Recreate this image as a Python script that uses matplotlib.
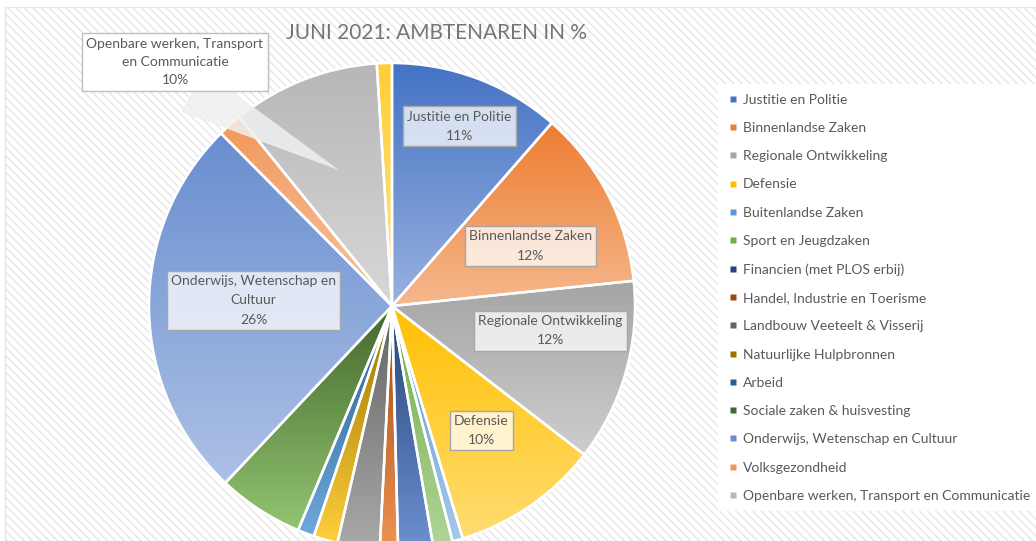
import colorsys
import numpy as np
import matplotlib
matplotlib.use('Agg')
import matplotlib.pyplot as plt
from matplotlib.colors import LinearSegmentedColormap, to_rgb
from matplotlib.lines import Line2D
from matplotlib.patches import Rectangle

plt.rcParams['font.family'] = ['Lato', 'DejaVu Sans']

# data (% of civil servants, June 2021)
ministries = ['Justitie en Politie', 'Binnenlandse Zaken', 'Regionale Ontwikkeling', 'Defensie',
              'Buitenlandse Zaken', 'Sport en Jeugdzaken', 'Financien (met PLOS erbij)',
              'Handel, Industrie en Toerisme', 'Landbouw Veeteelt & Visserij', 'Natuurlijke Hulpbronnen',
              'Arbeid', 'Sociale zaken & huisvesting', 'Onderwijs, Wetenschap en Cultuur',
              'Volksgezondheid', 'Openbare werken, Transport en Communicatie', '']
shares = [11.4, 11.9, 12.1, 9.8, 0.7, 1.3, 2.3, 1.2, 2.8, 1.6, 1.1, 5.7, 25.5, 1.6, 9.8, 1.0]
# which slices get a label in the pie: index -> label text (with line breaks)
pie_labels = {0: 'Justitie en Politie', 1: 'Binnenlandse Zaken', 2: 'Regionale Ontwikkeling',
              3: 'Defensie', 12: 'Onderwijs, Wetenschap en\nCultuur'}
callout_idx = 14
callout_text = 'Openbare werken, Transport\nen Communicatie'

# office palette
colors = ['#4472C4', '#ED7D31', '#A5A5A5', '#FFC000', '#5B9BD5', '#70AD47',
          '#264478', '#9E480E', '#636363', '#997300', '#255E91', '#43682B',
          '#698ED0', '#F1975A', '#B7B7B7', '#FFCD33']

W, H = 1036, 541
fig = plt.figure(figsize=(W / 100, H / 100), dpi=100)
fig.patch.set_facecolor('white')

# hatched chart area
bg = Rectangle((5 / W, 0), 1, 1 - 7 / H, transform=fig.transFigure, facecolor='white',
               edgecolor='#e6e6e6', hatch='\\\\\\\\', linewidth=1, zorder=-10)
fig.patches.append(bg)

def lighten(c, f):
    h, l, s = colorsys.rgb_to_hls(*to_rgb(c))
    return colorsys.hls_to_rgb(h, l + (1 - l) * f, s)

R = 243
cx, cy = 392, 306
pad = 1.02
ax = fig.add_axes([(cx - R * pad) / W, (H - cy - R * pad) / H, 2 * R * pad / W, 2 * R * pad / H])
wedges, _ = ax.pie(shares, colors=colors, startangle=90, counterclock=False, radius=1,
                   wedgeprops=dict(edgecolor='white', linewidth=1.8))

grad = np.linspace(0, 1, 256).reshape(-1, 1)
for w, c in zip(wedges, colors):
    ext = w.get_path().get_extents()
    cmap = LinearSegmentedColormap.from_list('g', [to_rgb(c), lighten(c, 0.45)])
    im = ax.imshow(grad, cmap=cmap, extent=(ext.x0, ext.x1, ext.y0, ext.y1), origin='upper',
                   aspect='auto', zorder=0.5, interpolation='bilinear')
    im.set_clip_path(w)
    w.set_facecolor('none')
    w.set_zorder(1)

ax.set_xlim(-pad, pad)
ax.set_ylim(-pad, pad)
ax.axis('off')

total = sum(shares)
# label placement: radius fraction and angle nudge (deg)
label_r = {0: 0.79, 1: 0.62, 2: 0.66, 3: 0.63, 12: 0.57}
label_nudge = {0: 0, 1: -4, 2: 7, 3: 1, 12: -3}
for i, txt in pie_labels.items():
    w = wedges[i]
    mid = np.deg2rad((w.theta1 + w.theta2) / 2 + label_nudge[i])
    r = label_r[i]
    pct = round(shares[i] / total * 100)
    ax.text(r * np.cos(mid), r * np.sin(mid), f'{txt}\n{pct}%', ha='center', va='center',
            fontsize=10, color='#595959', linespacing=1.75, zorder=5,
            bbox=dict(boxstyle='square,pad=0.3', facecolor=(1, 1, 1, 0.75), edgecolor='#a6a6a6', lw=1))

# callout label
w = wedges[callout_idx]
mid = np.deg2rad((w.theta1 + w.theta2) / 2)
pct = round(shares[callout_idx] / total * 100)
ax.annotate(f'{callout_text}\n{pct}%', xy=(0.6 * np.cos(mid), 0.6 * np.sin(mid)), xycoords='data',
            xytext=(175, H - 62), textcoords='figure pixels', ha='center', va='center',
            fontsize=10, color='#595959', linespacing=1.65, zorder=6, annotation_clip=False,
            bbox=dict(boxstyle='square,pad=0.3', facecolor='white', edgecolor='#bfbfbf', lw=1),
            arrowprops=dict(arrowstyle='wedge,tail_width=3.4,shrink_factor=0.5',
                            fc=(0.94, 0.94, 0.94, 0.85), ec='none', relpos=(0.55, 0),
                            shrinkA=0, shrinkB=0))

fig.text(436 / W, 1 - 33 / H, 'JUNI 2021: AMBTENAREN IN %', ha='center', va='center',
         fontsize=15, color='#757575')

handles = [Line2D([], [], marker='s', linestyle='none', markersize=5, markerfacecolor=c,
                  markeredgecolor='none') for c in colors[:15]]
leg = fig.legend(handles, ministries[:15], loc='upper left', bbox_to_anchor=(718 / W, 1 - 84 / H),
                 frameon=True, fancybox=False, facecolor='white', edgecolor='none', framealpha=1,
                 fontsize=10, labelcolor='#595959', handlelength=0.7, handletextpad=0.4,
                 labelspacing=1.17, borderpad=0.7, borderaxespad=0)

fig.savefig('out.png', dpi=100)
